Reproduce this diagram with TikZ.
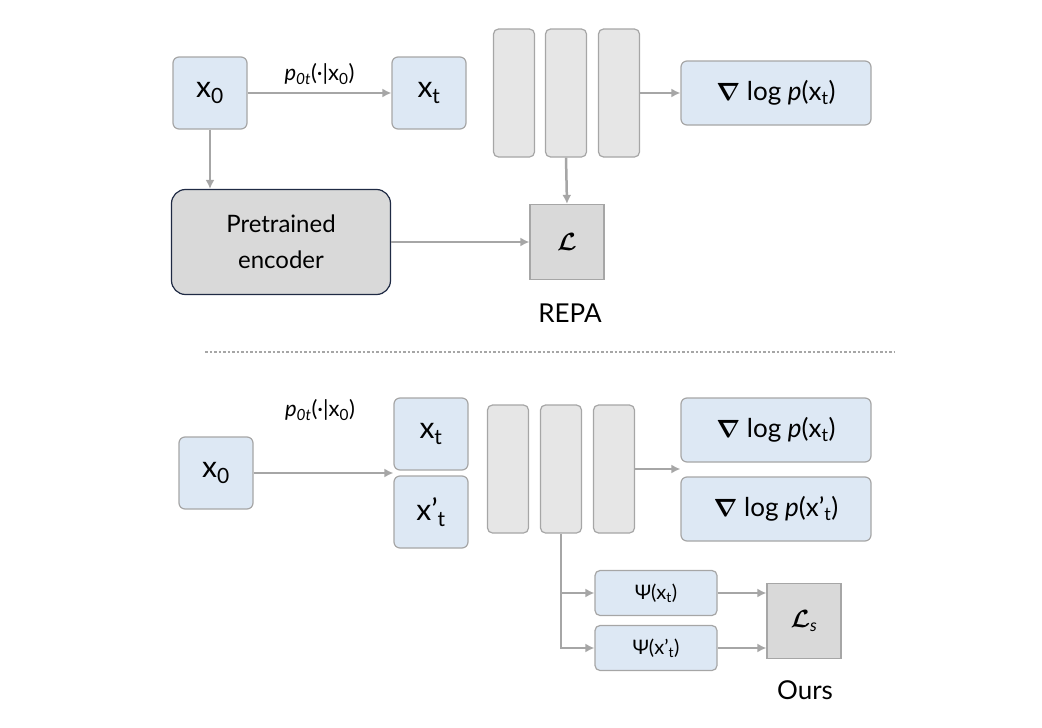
\documentclass[tikz,border=0pt]{standalone}
\usepackage{fontspec}
\usepackage{amsmath,bm}
\setmainfont{Lato}
\usetikzlibrary{positioning}
\definecolor{boxblue}{HTML}{DDE8F4}
\definecolor{boxgray}{HTML}{D9D9D9}
\definecolor{colgray}{HTML}{E6E6E6}
\definecolor{linegray}{HTML}{A6A6A6}
\definecolor{encborder}{HTML}{1F2A44}
\tikzset{
  var/.style={draw=linegray, fill=boxblue, rounded corners=6pt, line width=1.2pt,
    minimum width=74pt, minimum height=72pt, font=\fontsize{30}{34}\selectfont},
  score/.style={draw=linegray, fill=boxblue, rounded corners=6pt, line width=1.2pt,
    minimum width=190pt, minimum height=64pt, font=\fontsize{26}{30}\selectfont},
  col/.style={draw=linegray, fill=colgray, rounded corners=5pt, line width=1.2pt,
    minimum width=41pt, minimum height=128pt},
  loss/.style={draw=linegray, fill=boxgray, line width=1.2pt,
    minimum width=74pt, minimum height=75pt, font=\fontsize{24}{28}\selectfont},
  feat/.style={draw=linegray, fill=boxblue, rounded corners=5pt, line width=1.2pt,
    minimum width=122pt, minimum height=45pt, font=\fontsize{20}{24}\selectfont},
  lab/.style={font=\fontsize{22}{26}\selectfont},
  arr/.style={draw=linegray, line width=2.5pt, -{Latex[length=9pt,width=9pt]}}
}
\usetikzlibrary{arrows.meta}
\begin{document}
\begin{tikzpicture}[x=1pt,y=-1pt]
\useasboundingbox (0,0) rectangle (1042,728);
% top: REPA
\node[var] (x0a) at (210,93) {x\textsubscript{0}};
\node[var] (xta) at (429,93) {x\textsubscript{t}};
\node[col] (c1a) at (514,93) {};
\node[col] (c2a) at (566,93) {};
\node[col] (c3a) at (619,93) {};
\node[score] (sa) at (776,93) {$\bm\nabla$ log \textit{p}(x\textsubscript{t})};
\node[draw=encborder, fill=boxgray, rounded corners=14pt, line width=1.2pt,
  minimum width=219pt, minimum height=105pt, align=center,
  font=\fontsize{24}{36}\selectfont] (enc) at (281,242) {Pretrained\\encoder};
\node[loss] (la) at (567,242) {$\bm{\mathcal{L}}$};
\node[lab, font=\fontsize{26}{30}\selectfont] (repa) at (570,313) {REPA};
\draw[arr] (x0a) -- node[lab, above=4pt] {\textit{p\textsubscript{0t}}(·|x\textsubscript{0})} (xta);
\draw[arr] (c3a.east) -- (sa.west);
\draw[arr] (x0a) -- (x0a |- enc.north);
\draw[arr] (enc) -- (la);
\draw[arr] (c2a.south) -- (la.north);
% separator
\coordinate (sepl) at (205,352);
\coordinate (sepr) at (895,352);
\draw[linegray, line width=2.5pt, dotted] (sepl) -- (sepr);
% bottom: ours
\node[var] (x0b) at (216,473) {x\textsubscript{0}};
\node[var] (xtb) at (431,434) {x\textsubscript{t}};
\node[var] (xpb) at (431,512) {x’\textsubscript{t}};
\node[col] (c1b) at (508,469) {};
\node[col] (c2b) at (561,469) {};
\node[col] (c3b) at (614,469) {};
\node[score] (sb1) at (776,430) {$\bm\nabla$ log \textit{p}(x\textsubscript{t})};
\node[score] (sb2) at (776,509) {$\bm\nabla$ log \textit{p}(x’\textsubscript{t})};
\node[feat] (f1) at (656,593) {Ψ(x\textsubscript{t})};
\node[feat] (f2) at (656,648) {Ψ(x’\textsubscript{t})};
\node[loss] (lb) at (804,621) {$\bm{\mathcal{L}}_{\textit{s}}$};
\node[lab, font=\fontsize{26}{30}\selectfont] (ours) at (805,690) {Ours};
\draw[arr] (x0b) -- (x0b -| xtb.west);
\node[lab] at (320,410) {\textit{p\textsubscript{0t}}(·|x\textsubscript{0})};
\draw[arr] (c3b.east) -- (sb1.south west |- c3b.east);
\draw[arr] (c2b.south) |- (f2.west);
\draw[arr] (c2b.south |- f1.west) -- (f1.west);
\draw[arr] (f1.east) -- (f1.east -| lb.west);
\draw[arr] (f2.east) -- (f2.east -| lb.west);
\end{tikzpicture}
\end{document}
